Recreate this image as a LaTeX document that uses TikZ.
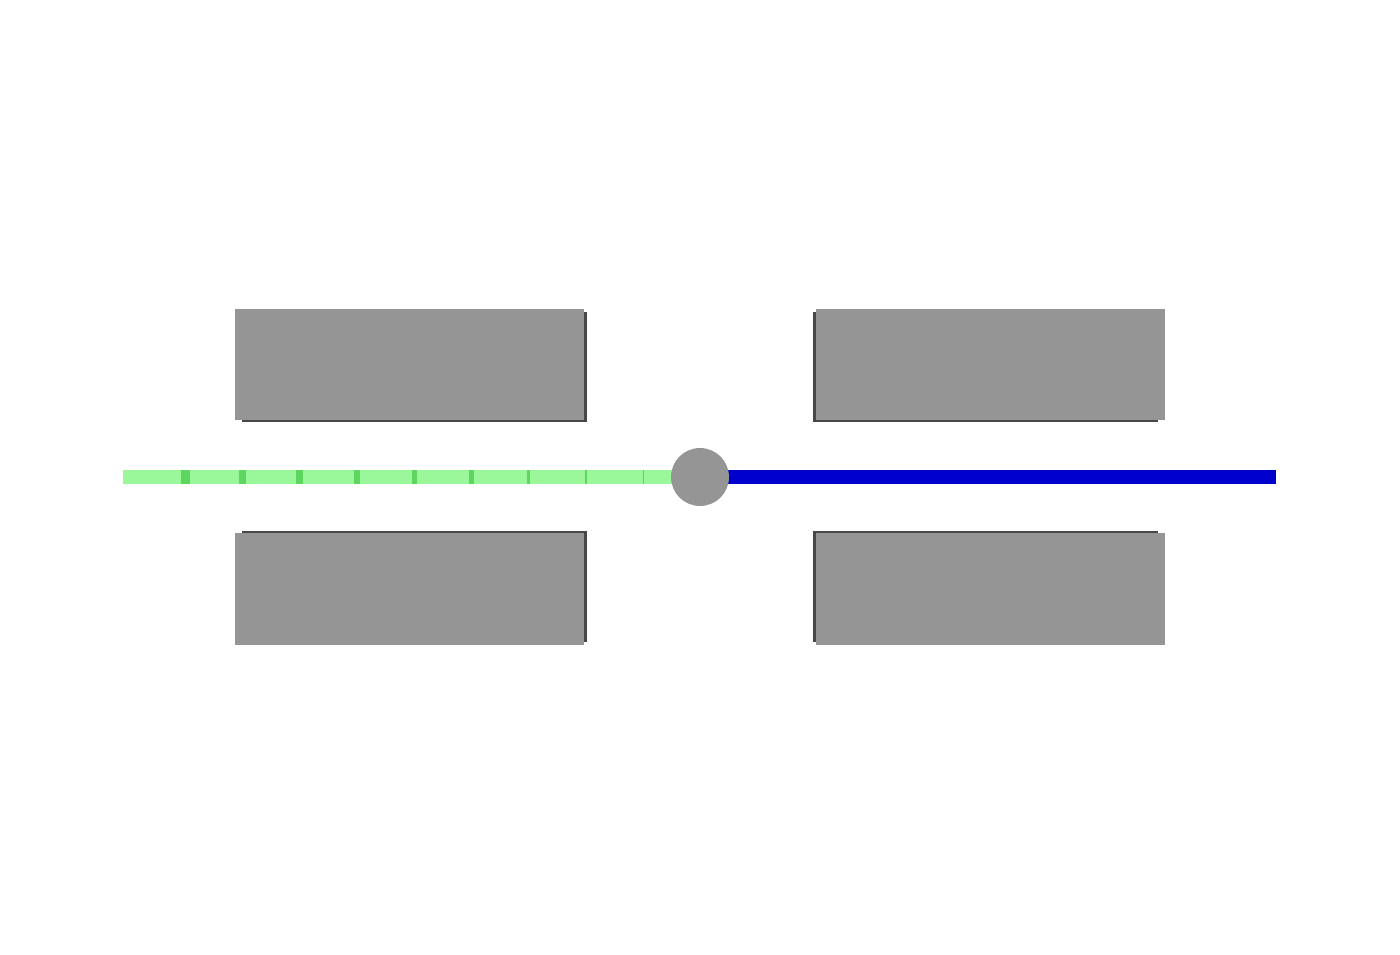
\documentclass[tikz,border=0pt]{standalone}
\usepackage{tikz}
\definecolor{blockgray}{RGB}{149,149,149}
\definecolor{blockedge}{RGB}{72,72,72}
\definecolor{beamgreen}{RGB}{154,247,154}
\definecolor{markgreen}{RGB}{94,213,94}
\definecolor{beamblue}{RGB}{0,0,204}
\begin{document}
\begin{tikzpicture}[x=0.02cm,y=-0.02cm]
\useasboundingbox[fill=white] (0,0) rectangle (1400,954);
% upper blocks
\fill[blockedge] (584,312) rectangle (587,422);
\fill[blockedge] (242,419) rectangle (587,422);
\fill[blockgray] (235,309) rectangle (584,420);
\fill[blockedge] (813,312) rectangle (816,422);
\fill[blockedge] (813,419) rectangle (1158,422);
\fill[blockgray] (816,309) rectangle (1165,420);
% lower blocks
\fill[blockedge] (584,531) rectangle (587,642);
\fill[blockedge] (242,531) rectangle (587,534);
\fill[blockgray] (235,533) rectangle (584,645);
\fill[blockedge] (813,531) rectangle (816,642);
\fill[blockedge] (813,531) rectangle (1158,534);
\fill[blockgray] (816,533) rectangle (1165,645);
% beam
\coordinate (gstart) at (123,470);
\coordinate (gend) at (680,484);
\coordinate (bstart) at (720,470);
\coordinate (bend) at (1276,484);
\fill[beamgreen] (gstart) rectangle (gend);
\foreach \a/\b in {181/190,239/246,296/303,354/360,412/417,469/474,527/530,585/587,643/644}
  \fill[markgreen] (\a,470) rectangle (\b,484);
\fill[beamblue] (bstart) rectangle (bend);
\node[circle,fill=blockgray,minimum size=1.16cm,inner sep=0pt] (ball) at (700,477) {};
\end{tikzpicture}
\end{document}
